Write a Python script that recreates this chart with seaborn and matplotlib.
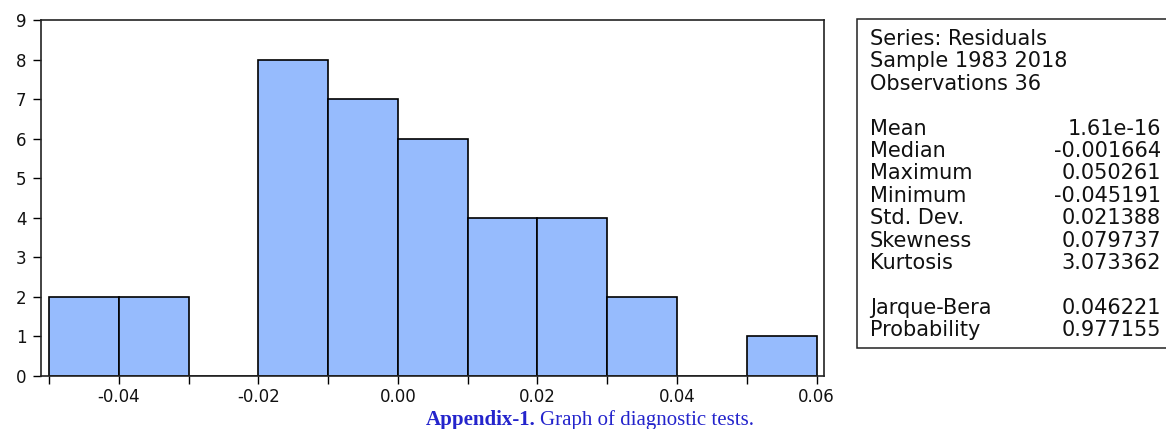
import numpy as np
import pandas as pd
import matplotlib
matplotlib.use("Agg")
import matplotlib.pyplot as plt
import seaborn as sns
from matplotlib.patches import Rectangle

# ---- data ----
bin_edges = [-0.05, -0.04, -0.03, -0.02, -0.01, 0.00, 0.01, 0.02, 0.03, 0.04, 0.05, 0.06]
bin_counts = [2, 2, 0, 8, 7, 6, 4, 4, 2, 0, 1]
x_tick_values = [-0.04, -0.02, 0.00, 0.02, 0.04, 0.06]
x_tick_labels = ["-0.04", "-0.02", "0.00", "0.02", "0.04", "0.06"]
y_tick_values = [0, 1, 2, 3, 4, 5, 6, 7, 8, 9]
header_lines = ["Series: Residuals", "Sample 1983 2018", "Observations 36"]
stat_names = ["Mean", "Median", "Maximum", "Minimum", "Std. Dev.", "Skewness", "Kurtosis"]
stat_values = ["1.61e-16", "-0.001664", "0.050261", "-0.045191", "0.021388", "0.079737", "3.073362"]
test_names = ["Jarque-Bera", "Probability"]
test_values = ["0.046221", "0.977155"]
caption_bold = "Appendix-1."
caption_rest = "Graph of diagnostic tests."

bin_centers = [(a + b) / 2 for a, b in zip(bin_edges[:-1], bin_edges[1:])]
df = pd.DataFrame({"residual": bin_centers, "count": bin_counts})

sns.set_style("white")
plt.rcParams["font.family"] = ["DejaVu Sans"]

W, H = 1166, 429
fig = plt.figure(figsize=(W / 100, H / 100), dpi=100)
ax = fig.add_axes([41 / W, 1 - 376 / H, (824 - 41) / W, (376 - 20) / H])

sns.histplot(data=df, x="residual", weights="count", bins=bin_edges, ax=ax,
             color="#96BBFD", edgecolor="black", linewidth=1.2, alpha=1.0)

ax.set_xlim(-0.05115, 0.06106)
ax.set_ylim(0, 9)
ax.set_xticks(x_tick_values)
ax.set_xticklabels(x_tick_labels)
ax.set_xticks(bin_edges, minor=True)
ax.set_yticks(y_tick_values)
ax.set_xlabel("")
ax.set_ylabel("")
ax.tick_params(axis="both", which="both", direction="out", length=5.5, width=1.0,
               color="black", labelsize=12, labelcolor="#111111")
ax.tick_params(axis="x", which="both", bottom=True, pad=3)
ax.tick_params(axis="y", which="both", left=True, pad=5)
for s in ax.spines.values():
    s.set_visible(True)
    s.set_color("#222222")
    s.set_linewidth(1.2)

# ---- stats box ----
box = Rectangle((857 / W, 1 - 348 / H), (1175 - 857) / W, (348 - 19) / H,
                transform=fig.transFigure, facecolor="white", edgecolor="#222222",
                linewidth=1.1, clip_on=False)
fig.patches.append(box)

fs = 15
lx, rx = 870 / W, 1161 / W
step = 22.4
y0 = 39
lines = []
for t in header_lines:
    lines.append((t, None))
lines.append((None, None))
for n, v in zip(stat_names, stat_values):
    lines.append((n, v))
lines.append((None, None))
for n, v in zip(test_names, test_values):
    lines.append((n, v))
for i, (n, v) in enumerate(lines):
    yy = 1 - (y0 + i * step) / H
    if n:
        fig.text(lx, yy, n, ha="left", va="center", fontsize=fs, color="#111111")
    if v:
        fig.text(rx, yy, v, ha="right", va="center", fontsize=fs, color="#111111")

# ---- caption ----
cap_y = 1 - 420 / H
fig.text(536 / W, cap_y, caption_bold, ha="right", va="center", fontsize=15,
         family="Liberation Serif", weight="bold", color="#2424CC")
fig.text(540 / W, cap_y, caption_rest, ha="left", va="center", fontsize=15,
         family="Liberation Serif", color="#2424CC")

fig.savefig("out.png", dpi=100)
